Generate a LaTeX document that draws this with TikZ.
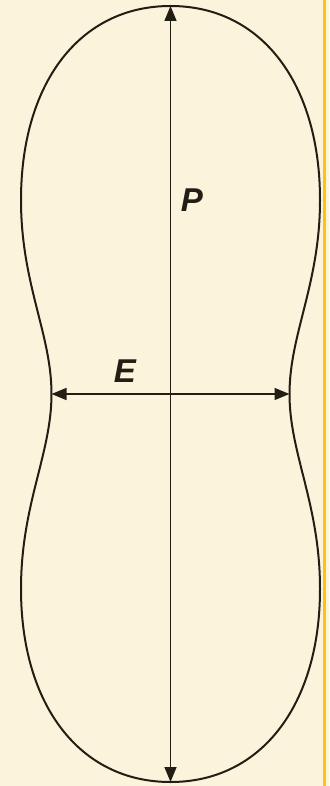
\documentclass[tikz,border=0pt]{standalone}
\usepackage{fontspec}
\setmainfont{Liberation Sans}
\usetikzlibrary{arrows.meta}
\definecolor{bg}{HTML}{FCF3DC}
\definecolor{edge}{HTML}{FFC20E}
\definecolor{ink}{HTML}{231E14}
\tikzset{
  outline/.style={draw=ink, line width=2pt},
  dim/.style={draw=ink, line width=1.6pt, {Triangle[length=15pt,width=12pt]}-{Triangle[length=15pt,width=12pt]}},
  lbl/.style={font=\fontsize{33}{33}\selectfont\bfseries\itshape, text=ink, inner sep=0pt}
}
\begin{document}
\begin{tikzpicture}[x=1pt,y=-1pt]
\useasboundingbox (0,0) rectangle (329,786);
\fill[bg] (0,0) rectangle (329,786);
\fill[edge] (322.5,0) rectangle (325.5,786);
% key points
\coordinate (T) at (170.5,6);
\coordinate (B) at (170.5,782);
\coordinate (R1) at (320,200);
\coordinate (W) at (289.5,394);
\coordinate (R2) at (320,589);
\coordinate (L1) at (21,200);
\coordinate (WL) at (51.5,394);
\coordinate (L2) at (21,589);
% outline
\path[outline] (T) .. controls (262,6) and (320,84) .. (R1)
  .. controls (320,284) and (289.5,334) .. (W)
  .. controls (289.5,454) and (320,504) .. (R2)
  .. controls (320,704) and (262,782) .. (B)
  .. controls (79,782) and (21,704) .. (L2)
  .. controls (21,504) and (51.5,454) .. (WL)
  .. controls (51.5,334) and (21,284) .. (L1)
  .. controls (21,84) and (79,6) .. (T) -- cycle;
% dimensions
\draw[dim] (B) -- (T);
\draw[dim] (WL) -- (W);
\node[lbl] (P) at (192,200) {P};
\node[lbl] (E) at (125,371) {E};
\end{tikzpicture}
\end{document}
